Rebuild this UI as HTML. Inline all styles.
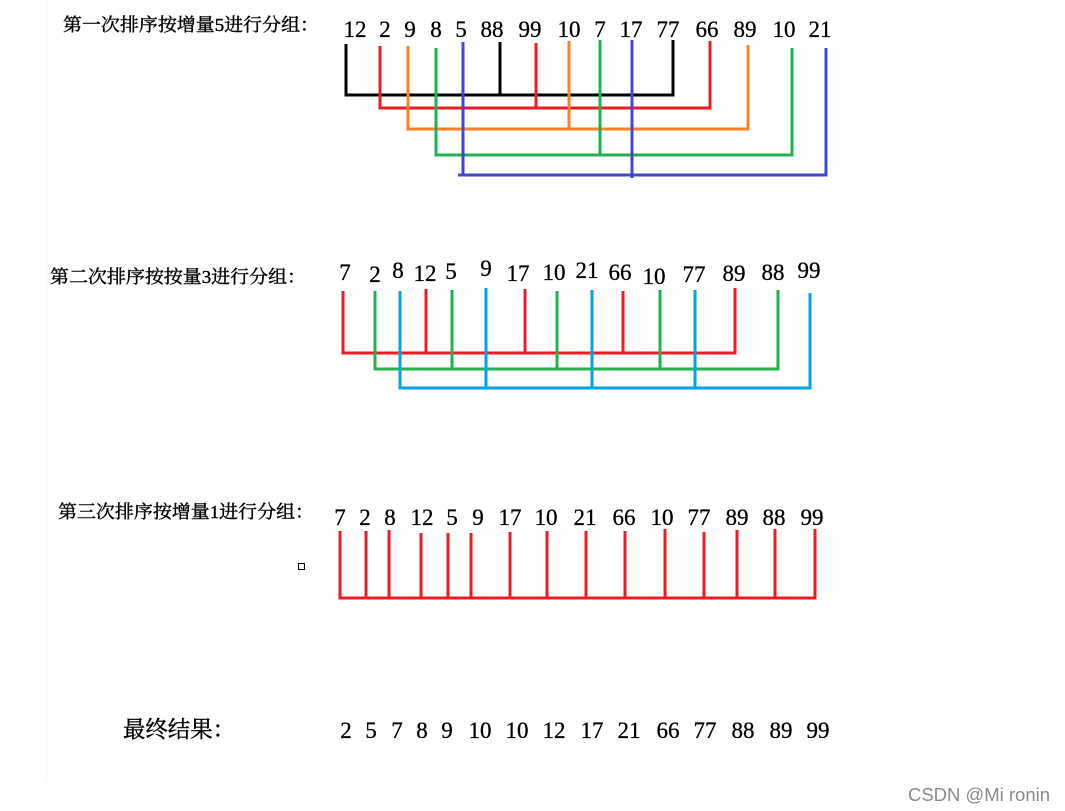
<!DOCTYPE html>
<html><head><meta charset="utf-8"><style>
html,body{margin:0;padding:0;background:#fff;}
svg{display:block;}
.n{font-family:"Liberation Serif","Noto Serif CJK SC",serif;font-size:23px;fill:#000;text-anchor:middle;stroke:#000;stroke-width:0.3px;}
.l{font-family:"Liberation Serif","Noto Serif CJK SC",serif;font-size:18px;fill:#000;stroke:#000;stroke-width:0.4px;}
</style></head><body>
<svg width="1065" height="811" viewBox="0 0 1065 811" xmlns="http://www.w3.org/2000/svg">
<line x1="47" y1="0" x2="47" y2="780" stroke="#f4f4fa" stroke-width="1"/>
<text class="l" x="63" y="31" textLength="256" lengthAdjust="spacingAndGlyphs">第一次排序按增量5进行分组：</text>
<g class="n">
<text x="355" y="37">12</text><text x="385" y="37">2</text><text x="410" y="37">9</text><text x="436" y="37">8</text><text x="461" y="37">5</text><text x="492" y="37">88</text><text x="530" y="37">99</text><text x="569" y="37">10</text><text x="600" y="37">7</text><text x="631" y="37">17</text><text x="668" y="37">77</text><text x="707" y="37">66</text><text x="745" y="37">89</text><text x="784" y="37">10</text><text x="820" y="37">21</text>
</g>
<g fill="none" stroke-width="3">
<path d="M346 44V95H673V40M500 42V95" stroke="#000"/>
<path d="M380 46V108H710V41M536 43V108" stroke="#ed1c24"/>
<path d="M408 46V129H748V45M569 41V129" stroke="#ff7f27"/>
<path d="M436 48V155H792V48M600 40V155" stroke="#22b14c"/>
<path d="M463 42V175H826V48M632 40V178M458 175H463" stroke="#3f48cc"/>
</g>
<text class="l" x="50" y="283" textLength="256" lengthAdjust="spacingAndGlyphs">第二次排序按按量3进行分组：</text>
<g class="n">
<text x="345" y="280">7</text><text x="375" y="282">2</text><text x="398" y="278">8</text><text x="425" y="281">12</text><text x="451" y="279">5</text><text x="486" y="276">9</text><text x="518" y="281">17</text><text x="554" y="280">10</text><text x="587" y="278">21</text><text x="620" y="280">66</text><text x="654" y="284">10</text><text x="694" y="282">77</text><text x="734" y="281">89</text><text x="773" y="280">88</text><text x="809" y="278">99</text>
</g>
<g fill="none" stroke-width="3">
<path d="M343 291V353H735V288M426 289V353M525 289V353M623 291V353" stroke="#ed1c24"/>
<path d="M375 291V369H778V290M452 290V369M557 291V369M660 290V369" stroke="#22b14c"/>
<path d="M400 291V388H810V293M486 288V388M592 290V388M695 290V388" stroke="#00a2e8"/>
</g>
<text class="l" x="58" y="518" textLength="256" lengthAdjust="spacingAndGlyphs">第三次排序按增量1进行分组：</text>
<g class="n">
<text x="340" y="525">7</text><text x="365" y="525">2</text><text x="390" y="525">8</text><text x="422" y="525">12</text><text x="452" y="525">5</text><text x="478" y="525">9</text><text x="510" y="525">17</text><text x="546" y="525">10</text><text x="585" y="525">21</text><text x="624" y="525">66</text><text x="662" y="525">10</text><text x="699" y="525">77</text><text x="737" y="525">89</text><text x="774" y="525">88</text><text x="812" y="525">99</text>
</g>
<path fill="none" stroke="#ed1c24" stroke-width="3" d="M340 531V598H815V529M366 531V598M389 530V598M421 533V598M448 533V598M471 533V598M510 532V598M547 531V598M586 531V598M625 531V598M665 529V598M704 532V598M737 530V598M775 529V598"/>
<rect x="298.5" y="563.5" width="6" height="6" fill="none" stroke="#000" stroke-width="1"/>
<text class="l" x="123" y="737" style="font-size:23px" textLength="112" lengthAdjust="spacingAndGlyphs">最终结果：</text>
<g class="n">
<text x="346" y="738">2</text><text x="371" y="738">5</text><text x="397" y="738">7</text><text x="422" y="738">8</text><text x="447" y="738">9</text><text x="480" y="738">10</text><text x="517" y="738">10</text><text x="554" y="738">12</text><text x="592" y="738">17</text><text x="629" y="738">21</text><text x="668" y="738">66</text><text x="705" y="738">77</text><text x="743" y="738">88</text><text x="781" y="738">89</text><text x="818" y="738">99</text>
</g>
<text x="908" y="801" textLength="142" lengthAdjust="spacingAndGlyphs" style="font-family:'Liberation Sans',sans-serif;font-size:18px;fill:#8a8a8a">CSDN @Mi ronin</text>
</svg>
</body></html>
